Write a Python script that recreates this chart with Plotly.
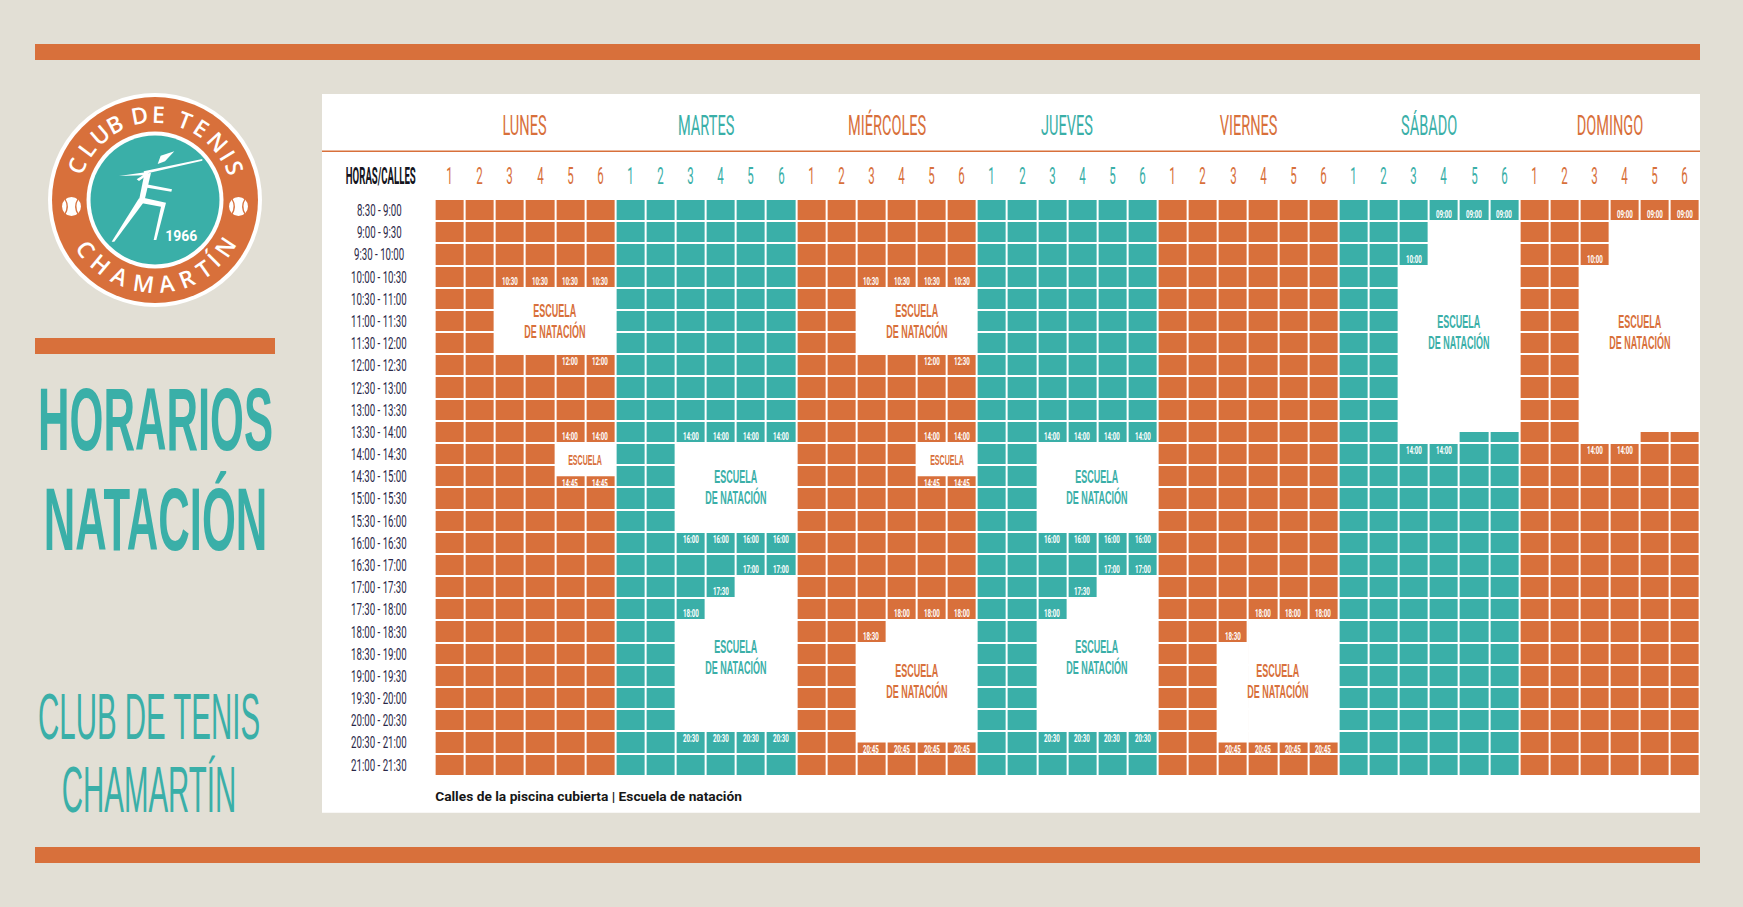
import json
import math
import plotly.graph_objects as go

W, H = 1743, 907
ORANGE = "#D8703B"
TEAL = "#3AAFA8"
BG = "#E2DFD5"
NAVY = "#2A2747"
FONT = "Roboto"
TIGHT = "Liberation Sans"   # small line box, used for stacked multi-line texts

# ---------------- data ----------------
days = ["LUNES", "MARTES", "MIÉRCOLES", "JUEVES", "VIERNES", "SÁBADO", "DOMINGO"]
day_palette = ["orange", "teal", "orange", "teal", "orange", "teal", "orange"]
lanes = ["1", "2", "3", "4", "5", "6"]
time_slots = ["8:30 - 9:00", "9:00 - 9:30", "9:30 - 10:00", "10:00 - 10:30",
              "10:30 - 11:00", "11:00 - 11:30", "11:30 - 12:00", "12:00 - 12:30",
              "12:30 - 13:00", "13:00 - 13:30", "13:30 - 14:00", "14:00 - 14:30",
              "14:30 - 15:00", "15:00 - 15:30", "15:30 - 16:00", "16:00 - 16:30",
              "16:30 - 17:00", "17:00 - 17:30", "17:30 - 18:00", "18:00 - 18:30",
              "18:30 - 19:00", "19:00 - 19:30", "19:30 - 20:00", "20:00 - 20:30",
              "20:30 - 21:00", "21:00 - 21:30"]
header_left = "HORAS/CALLES"

# lanes reserved for the swimming school: (day, lane, start, end)
school_lanes = [
    ("LUNES", 3, "10:30", "12:00"), ("LUNES", 4, "10:30", "12:00"),
    ("LUNES", 5, "10:30", "12:00"), ("LUNES", 6, "10:30", "12:00"),
    ("LUNES", 5, "14:00", "14:45"), ("LUNES", 6, "14:00", "14:45"),
    ("MARTES", 3, "14:00", "16:00"), ("MARTES", 4, "14:00", "16:00"),
    ("MARTES", 5, "14:00", "16:00"), ("MARTES", 6, "14:00", "16:00"),
    ("MARTES", 3, "18:00", "20:30"), ("MARTES", 4, "17:30", "20:30"),
    ("MARTES", 5, "17:00", "20:30"), ("MARTES", 6, "17:00", "20:30"),
    ("MIÉRCOLES", 3, "10:30", "12:00"), ("MIÉRCOLES", 4, "10:30", "12:00"),
    ("MIÉRCOLES", 5, "10:30", "12:00"), ("MIÉRCOLES", 6, "10:30", "12:00"),
    ("MIÉRCOLES", 5, "14:00", "14:45"), ("MIÉRCOLES", 6, "14:00", "14:45"),
    ("MIÉRCOLES", 3, "18:30", "20:45"), ("MIÉRCOLES", 4, "18:00", "20:45"),
    ("MIÉRCOLES", 5, "18:00", "20:45"), ("MIÉRCOLES", 6, "18:00", "20:45"),
    ("JUEVES", 3, "14:00", "16:00"), ("JUEVES", 4, "14:00", "16:00"),
    ("JUEVES", 5, "14:00", "16:00"), ("JUEVES", 6, "14:00", "16:00"),
    ("JUEVES", 3, "18:00", "20:30"), ("JUEVES", 4, "17:30", "20:30"),
    ("JUEVES", 5, "17:00", "20:30"), ("JUEVES", 6, "17:00", "20:30"),
    ("VIERNES", 3, "18:30", "20:45"), ("VIERNES", 4, "18:00", "20:45"),
    ("VIERNES", 5, "18:00", "20:45"), ("VIERNES", 6, "18:00", "20:45"),
    ("SÁBADO", 3, "10:00", "14:00"), ("SÁBADO", 4, "09:00", "14:00"),
    ("SÁBADO", 5, "09:00", "13:45"), ("SÁBADO", 6, "09:00", "13:45"),
    ("DOMINGO", 3, "10:00", "14:00"), ("DOMINGO", 4, "09:00", "14:00"),
    ("DOMINGO", 5, "09:00", "13:45"), ("DOMINGO", 6, "09:00", "13:45"),
]

# small time marks: (day, lane, text, at time, side of the edge)
time_marks = [
    ("LUNES", 3, "10:30", "10:30", "above"), ("LUNES", 4, "10:30", "10:30", "above"),
    ("LUNES", 5, "10:30", "10:30", "above"), ("LUNES", 6, "10:30", "10:30", "above"),
    ("LUNES", 5, "12:00", "12:00", "below"), ("LUNES", 6, "12:00", "12:00", "below"),
    ("LUNES", 5, "14:00", "14:00", "above"), ("LUNES", 6, "14:00", "14:00", "above"),
    ("LUNES", 5, "14:45", "14:45", "below"), ("LUNES", 6, "14:45", "14:45", "below"),
    ("MARTES", 3, "14:00", "14:00", "above"), ("MARTES", 4, "14:00", "14:00", "above"),
    ("MARTES", 5, "14:00", "14:00", "above"), ("MARTES", 6, "14:00", "14:00", "above"),
    ("MARTES", 3, "16:00", "16:00", "below"), ("MARTES", 4, "16:00", "16:00", "below"),
    ("MARTES", 5, "16:00", "16:00", "below"), ("MARTES", 6, "16:00", "16:00", "below"),
    ("MARTES", 5, "17:00", "17:00", "above"), ("MARTES", 6, "17:00", "17:00", "above"),
    ("MARTES", 4, "17:30", "17:30", "above"), ("MARTES", 3, "18:00", "18:00", "above"),
    ("MARTES", 3, "20:30", "20:30", "below"), ("MARTES", 4, "20:30", "20:30", "below"),
    ("MARTES", 5, "20:30", "20:30", "below"), ("MARTES", 6, "20:30", "20:30", "below"),
    ("MIÉRCOLES", 3, "10:30", "10:30", "above"), ("MIÉRCOLES", 4, "10:30", "10:30", "above"),
    ("MIÉRCOLES", 5, "10:30", "10:30", "above"), ("MIÉRCOLES", 6, "10:30", "10:30", "above"),
    ("MIÉRCOLES", 5, "12:00", "12:00", "below"), ("MIÉRCOLES", 6, "12:30", "12:00", "below"),
    ("MIÉRCOLES", 5, "14:00", "14:00", "above"), ("MIÉRCOLES", 6, "14:00", "14:00", "above"),
    ("MIÉRCOLES", 5, "14:45", "14:45", "below"), ("MIÉRCOLES", 6, "14:45", "14:45", "below"),
    ("MIÉRCOLES", 4, "18:00", "18:00", "above"), ("MIÉRCOLES", 5, "18:00", "18:00", "above"),
    ("MIÉRCOLES", 6, "18:00", "18:00", "above"), ("MIÉRCOLES", 3, "18:30", "18:30", "above"),
    ("MIÉRCOLES", 3, "20:45", "20:45", "below"), ("MIÉRCOLES", 4, "20:45", "20:45", "below"),
    ("MIÉRCOLES", 5, "20:45", "20:45", "below"), ("MIÉRCOLES", 6, "20:45", "20:45", "below"),
    ("JUEVES", 3, "14:00", "14:00", "above"), ("JUEVES", 4, "14:00", "14:00", "above"),
    ("JUEVES", 5, "14:00", "14:00", "above"), ("JUEVES", 6, "14:00", "14:00", "above"),
    ("JUEVES", 3, "16:00", "16:00", "below"), ("JUEVES", 4, "16:00", "16:00", "below"),
    ("JUEVES", 5, "16:00", "16:00", "below"), ("JUEVES", 6, "16:00", "16:00", "below"),
    ("JUEVES", 5, "17:00", "17:00", "above"), ("JUEVES", 6, "17:00", "17:00", "above"),
    ("JUEVES", 4, "17:30", "17:30", "above"), ("JUEVES", 3, "18:00", "18:00", "above"),
    ("JUEVES", 3, "20:30", "20:30", "below"), ("JUEVES", 4, "20:30", "20:30", "below"),
    ("JUEVES", 5, "20:30", "20:30", "below"), ("JUEVES", 6, "20:30", "20:30", "below"),
    ("VIERNES", 4, "18:00", "18:00", "above"), ("VIERNES", 5, "18:00", "18:00", "above"),
    ("VIERNES", 6, "18:00", "18:00", "above"), ("VIERNES", 3, "18:30", "18:30", "above"),
    ("VIERNES", 3, "20:45", "20:45", "below"), ("VIERNES", 4, "20:45", "20:45", "below"),
    ("VIERNES", 5, "20:45", "20:45", "below"), ("VIERNES", 6, "20:45", "20:45", "below"),
    ("SÁBADO", 4, "09:00", "09:00", "above"), ("SÁBADO", 5, "09:00", "09:00", "above"),
    ("SÁBADO", 6, "09:00", "09:00", "above"), ("SÁBADO", 3, "10:00", "10:00", "above"),
    ("SÁBADO", 3, "14:00", "14:00", "below"), ("SÁBADO", 4, "14:00", "14:00", "below"),
    ("DOMINGO", 4, "09:00", "09:00", "above"), ("DOMINGO", 5, "09:00", "09:00", "above"),
    ("DOMINGO", 6, "09:00", "09:00", "above"), ("DOMINGO", 3, "10:00", "10:00", "above"),
    ("DOMINGO", 3, "14:00", "14:00", "below"), ("DOMINGO", 4, "14:00", "14:00", "below"),
]

# captions of the school blocks: (day, first lane, last lane, centre time, lines)
captions = [
    ("LUNES", 3, 6, "11:15", ["ESCUELA", "DE NATACIÓN"]),
    ("LUNES", 5, 6, "14:22", ["ESCUELA"]),
    ("MARTES", 3, 6, "15:00", ["ESCUELA", "DE NATACIÓN"]),
    ("MARTES", 3, 6, "18:50", ["ESCUELA", "DE NATACIÓN"]),
    ("MIÉRCOLES", 3, 6, "11:15", ["ESCUELA", "DE NATACIÓN"]),
    ("MIÉRCOLES", 5, 6, "14:22", ["ESCUELA"]),
    ("MIÉRCOLES", 3, 6, "19:22", ["ESCUELA", "DE NATACIÓN"]),
    ("JUEVES", 3, 6, "15:00", ["ESCUELA", "DE NATACIÓN"]),
    ("JUEVES", 3, 6, "18:50", ["ESCUELA", "DE NATACIÓN"]),
    ("VIERNES", 3, 6, "19:22", ["ESCUELA", "DE NATACIÓN"]),
    ("SÁBADO", 3, 6, "11:30", ["ESCUELA", "DE NATACIÓN"]),
    ("DOMINGO", 3, 6, "11:30", ["ESCUELA", "DE NATACIÓN"]),
]

title_lines = ["HORARIOS", "NATACIÓN"]
club_lines = ["CLUB DE TENIS", "CHAMARTÍN"]
legend_text = "Calles de la piscina cubierta | Escuela de natación"
logo_top = "CLUB DE TENIS"
logo_bottom = "CHAMARTÍN"
logo_year = "1966"

# ---------------- helpers ----------------
COLORS = {"orange": ORANGE, "teal": TEAL}
NL = len(lanes)
ncol = len(days) * NL
nrow = len(time_slots)
day_idx = {d: i for i, d in enumerate(days)}

# Liberation Sans vertical metrics (em)
ASC, CAPH = 0.905, 0.716
GAP = 1.13  # line pitch (em) — just above the glyph box height


def hours(t):
    h, m = t.split(":")
    return int(h) + int(m) / 60.0


T0 = hours(time_slots[0].split(" - ")[0])


def row(t):
    return (hours(t) - T0) * 2


def PX(x):
    return x / W


def PY(y):
    return 1 - y / H


GRID_L, GRID_R, GRID_T, GRID_B = 434.6, 1700.0, 199.0, 775.7

z = [[0 if day_palette[c // NL] == "orange" else 1 for c in range(ncol)] for r in range(nrow)]

fig = go.Figure(go.Heatmap(
    z=z, x=[c + 0.5 for c in range(ncol)], y=[r + 0.5 for r in range(nrow)],
    colorscale=[[0, ORANGE], [1, TEAL]], zmin=0, zmax=1, showscale=False,
    xgap=2, ygap=2, hoverinfo="skip"))

shapes = []


def prect(x0, y0, x1, y1, color, layer="below"):
    shapes.append(dict(type="rect", xref="paper", yref="paper", x0=PX(x0), x1=PX(x1),
                       y0=PY(y0), y1=PY(y1), fillcolor=color, line=dict(width=0), layer=layer))


def pcircle(cx, cy, r, color):
    shapes.append(dict(type="circle", xref="paper", yref="paper", x0=PX(cx - r), x1=PX(cx + r),
                       y0=PY(cy - r), y1=PY(cy + r), fillcolor=color, line=dict(width=0), layer="below"))


def ppath(pts, fill):
    d = "M " + " L ".join(f"{PX(x):.5f},{PY(y):.5f}" for x, y in pts) + " Z"
    shapes.append(dict(type="path", xref="paper", yref="paper", path=d, layer="below",
                       fillcolor=fill, line=dict(width=0)))


# frame
prect(35, 44, 1700, 60, ORANGE)
prect(35, 847, 1700, 863, ORANGE)
prect(35, 338, 275, 354, ORANGE)
prect(322, 94, 1700, 812.7, "white")
shapes.append(dict(type="line", xref="paper", yref="paper", x0=PX(322), x1=PX(1700),
                   y0=PY(151.3), y1=PY(151.3), line=dict(color=ORANGE, width=1.5), layer="below"))

# logo
LCX, LCY = 155, 200
pcircle(LCX, LCY, 107, "white")
pcircle(LCX, LCY, 103, ORANGE)
pcircle(LCX, LCY, 68.5, "white")
pcircle(LCX, LCY, 64.5, TEAL)
for bx in (71.5, 238.5):
    pcircle(bx, 206.5, 9.5, "white")
    for sgn in (-1, 1):
        shapes.append(dict(type="path", xref="paper", yref="paper", layer="below",
                           path=f"M {PX(bx + sgn * 6.5):.5f},{PY(199):.5f} Q {PX(bx + sgn * 2):.5f},{PY(206.5):.5f} {PX(bx + sgn * 6.5):.5f},{PY(214):.5f}",
                           line=dict(color=ORANGE, width=1.3)))


def zc(pts):
    return [(x / 3 + 45, y / 3 + 90) for x, y in pts]


figure_parts = [
    [(338, 222), (347, 197), (388, 184), (360, 214)],                          # head
    [(296, 244), (472, 207), (472, 212), (298, 252)],                          # racket
    [(222, 258), (306, 246), (311, 252), (282, 273), (275, 268), (294, 256)],  # arm
    [(298, 252), (318, 248), (298, 334), (282, 331)],                          # torso
    [(300, 282), (381, 298), (379, 305), (298, 292)],                          # back arm
    [(282, 325), (299, 333), (208, 455), (200, 455)],                          # back leg
    [(288, 322), (363, 338), (334, 450), (326, 450), (348, 350), (292, 340)],  # front leg
]
for part in figure_parts:
    ppath(zc(part), "white")

# school blocks (data coordinates)
for d, lane, t0, t1 in school_lanes:
    c = day_idx[d] * NL + lane - 1
    shapes.append(dict(type="rect", xref="x", yref="y", x0=c, x1=c + 1, y0=row(t0), y1=row(t1),
                       fillcolor="white", line=dict(width=0), layer="above"))

annotations = []
scales = {}


def ann(text, x, y, size, color, xref="paper", yref="paper", weight=400, family=FONT,
        sx=None, w=None, w1=None, dy=None, textangle=0, yanchor="middle", yshift=0):
    annotations.append(dict(text=text, x=x, y=y, xref=xref, yref=yref, showarrow=False,
                            xanchor="center", yanchor=yanchor, yshift=yshift, textangle=textangle,
                            font=dict(family=family, size=size, color=color, weight=weight)))
    if sx is not None or w is not None or w1 is not None or dy is not None:
        scales[str(len(annotations) - 1)] = {"sx": sx, "w": w, "w1": w1, "dy": dy}


def stacked(lines, x, y_cap_top, size, color, w1, xref="paper", yref="paper", weight=400, yshift=0):
    """two lines in one text; y_cap_top is in paper units (or data + yshift px)."""
    ann("<br>".join(lines), x, y_cap_top, size, color, xref=xref, yref=yref, weight=weight,
        family=TIGHT, w1=w1, dy=round(GAP * size, 2), yanchor="top",
        yshift=yshift + (ASC - CAPH) * size + 2)


# day headers and lane numbers
for i, d in enumerate(days):
    col = COLORS[day_palette[i]]
    ann(d, i * NL + NL / 2, PY(125.5), 28, col, xref="x", sx=0.52)
    for j, ln in enumerate(lanes):
        ann(ln, i * NL + j + 0.5, PY(176.5), 23, col, xref="x", sx=0.5)
ann(header_left, PX(380), PY(176.5), 23, "#141420", weight=700, w=70)

# time slot labels
for r, ts in enumerate(time_slots):
    ann(ts, PX(379), r + 0.5, 17, NAVY, yref="y", sx=0.57)

# captions
CAP = 18.2
for d, l0, l1, tc, lines in captions:
    i = day_idx[d]
    col = COLORS[day_palette[i]]
    xc = i * NL + (l0 - 1 + l1) / 2
    yc = row(tc)
    if len(lines) == 1:
        ann(lines[0], xc, yc, 15, col, xref="x", yref="y", family=TIGHT, weight=700, w=34)
    else:
        half_span = (GAP * CAP + CAPH * CAP) / 2
        stacked(lines, xc, yc, CAP, col, w1=43, xref="x", yref="y", yshift=half_span, weight=700)

# time marks
for d, lane, txt, at, side in time_marks:
    c = day_idx[d] * NL + lane - 0.5
    if side == "above":
        ann(txt, c, row(at), 10, "white", xref="x", yref="y", weight=700, sx=0.62,
            yanchor="bottom", yshift=-1.0)
    else:
        ann(txt, c, row(at), 10, "white", xref="x", yref="y", weight=700, sx=0.62,
            yanchor="top", yshift=0)

# left titles
stacked(title_lines, PX(155), PY(386.7), 88.9, TEAL, w1=235, weight=700)
stacked(club_lines, PX(149), PY(692.5), 65, TEAL, w1=222, weight=400)

# legend line
ann(legend_text, PX(588.5), PY(796), 12.5, "#161616", weight=700, w=307)

# logo texts along arcs
top_angles = [156.5, 143.3, 130.4, 118.0, None, 100.5, 88.0, None, 69.2, 56.9, 42.6, 31.8, 21.6]
for ch, a in zip(logo_top, top_angles):
    if a is None or ch == " ":
        continue
    rad = math.radians(a)
    ann(ch, PX(LCX + 86 * math.cos(rad)), PY(LCY - 86 * math.sin(rad)), 23, "white",
        family="Open Sans", weight=600, textangle=90 - a)
bot_angles = [-144.7, -130.1, -114.5, -97.8, -82.1, -68.0, -55.0, -45.0, -34.0]
for ch, a in zip(logo_bottom, bot_angles):
    rad = math.radians(a)
    ann(ch, PX(LCX + 84 * math.cos(rad)), PY(LCY - 84 * math.sin(rad)), 23, "white",
        family="Open Sans", weight=600, textangle=-90 - a)
ann(logo_year, PX(181), PY(236), 15, "white", weight=700, w=32)

fig.update_layout(
    width=W, height=H, margin=dict(l=0, r=0, t=0, b=0),
    paper_bgcolor=BG, plot_bgcolor="rgba(0,0,0,0)", showlegend=False,
    xaxis=dict(domain=[PX(GRID_L), PX(GRID_R)], range=[0, ncol], visible=False, fixedrange=True),
    yaxis=dict(domain=[PY(GRID_B), PY(GRID_T)], range=[nrow, 0], visible=False, fixedrange=True),
    shapes=shapes, annotations=annotations,
)

post = """
var gd = document.getElementById('{plot_id}');
var S = __S__;
function squeeze(){
  document.documentElement.style.margin = '0';
  document.body.style.margin = '0';
  document.body.style.padding = '0';
  document.body.style.overflow = 'hidden';
  gd.querySelectorAll('g.annotation').forEach(function(g){
    var s = S[g.getAttribute('data-index')];
    if (!s) return;
    var t = g.querySelector('text.annotation-text');
    if (!t) return;
    var lines = t.querySelectorAll('tspan.line');
    if (s.dy && lines.length > 1) { lines[1].setAttribute('dy', String(s.dy)); }
    var sx = s.sx;
    if (s.w) { var bb = t.getBBox(); if (bb.width > 0) sx = s.w / bb.width; }
    if (s.w1) {
      var L = lines.length ? lines[0].getComputedTextLength() : t.getComputedTextLength();
      if (L > 0) sx = s.w1 / L;
    }
    if (sx) {
      t.style.transformBox = 'fill-box';
      t.style.transformOrigin = '50% 50%';
      t.style.transform = 'scaleX(' + sx + ')';
    }
  });
}
squeeze();
if (document.fonts && document.fonts.ready) { document.fonts.ready.then(squeeze); }
""".replace("__S__", json.dumps(scales))

fig.write_html("out.html", post_script=post, config={"displayModeBar": False, "staticPlot": True})
